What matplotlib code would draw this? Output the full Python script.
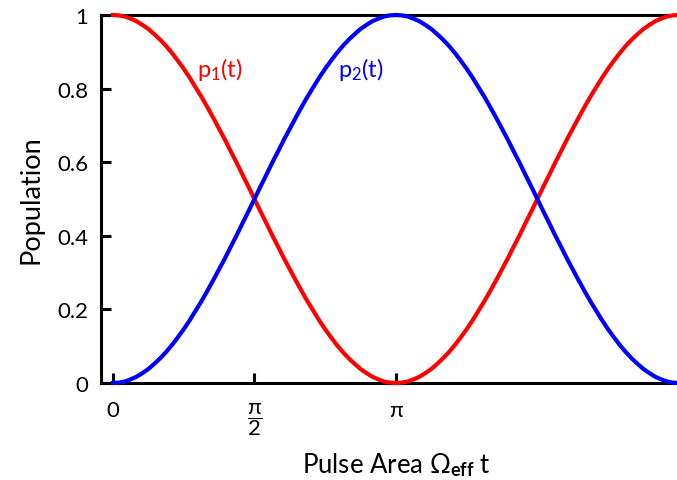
import numpy as np
import matplotlib
matplotlib.use("Agg")
import matplotlib.pyplot as plt

plt.rcParams['font.family'] = ['Lato', 'DejaVu Sans']
plt.rcParams['mathtext.fontset'] = 'custom'
plt.rcParams['mathtext.rm'] = 'Lato'
plt.rcParams['mathtext.it'] = 'Lato:italic'
plt.rcParams['mathtext.bf'] = 'Lato:bold'

# pulse area sampled in steps of pi/48, from 0 to 2*pi
pulse_area = np.linspace(0, 2 * np.pi, 97)

# ground-state population p1(t)
p1 = [1.000, 0.999, 0.996, 0.990, 0.983, 0.973, 0.962, 0.948, 0.933, 0.916,
      0.897, 0.876, 0.854, 0.830, 0.804, 0.778, 0.750, 0.721, 0.691, 0.661,
      0.629, 0.598, 0.565, 0.533, 0.500, 0.467, 0.435, 0.402, 0.371, 0.339,
      0.309, 0.279, 0.250, 0.222, 0.196, 0.170, 0.146, 0.124, 0.103, 0.084,
      0.067, 0.052, 0.038, 0.027, 0.017, 0.010, 0.004, 0.001, 0.000,
      0.001, 0.004, 0.010, 0.017, 0.027, 0.038, 0.052, 0.067, 0.084, 0.103,
      0.124, 0.146, 0.170, 0.196, 0.222, 0.250, 0.279, 0.309, 0.339, 0.371,
      0.402, 0.435, 0.467, 0.500, 0.533, 0.565, 0.598, 0.629, 0.661, 0.691,
      0.721, 0.750, 0.778, 0.804, 0.830, 0.854, 0.876, 0.897, 0.916, 0.933,
      0.948, 0.962, 0.973, 0.983, 0.990, 0.996, 0.999, 1.000]

# excited-state population p2(t)
p2 = [0.000, 0.001, 0.004, 0.010, 0.017, 0.027, 0.038, 0.052, 0.067, 0.084,
      0.103, 0.124, 0.146, 0.170, 0.196, 0.222, 0.250, 0.279, 0.309, 0.339,
      0.371, 0.402, 0.435, 0.467, 0.500, 0.533, 0.565, 0.598, 0.629, 0.661,
      0.691, 0.721, 0.750, 0.778, 0.804, 0.830, 0.854, 0.876, 0.897, 0.916,
      0.933, 0.948, 0.962, 0.973, 0.983, 0.990, 0.996, 0.999, 1.000,
      0.999, 0.996, 0.990, 0.983, 0.973, 0.962, 0.948, 0.933, 0.916, 0.897,
      0.876, 0.854, 0.830, 0.804, 0.778, 0.750, 0.721, 0.691, 0.661, 0.629,
      0.598, 0.565, 0.533, 0.500, 0.467, 0.435, 0.402, 0.371, 0.339, 0.309,
      0.279, 0.250, 0.222, 0.196, 0.170, 0.146, 0.124, 0.103, 0.084, 0.067,
      0.052, 0.038, 0.027, 0.017, 0.010, 0.004, 0.001, 0.000]

x_ticks = [0, np.pi / 2, np.pi]
x_tick_labels = ['0', r'$\dfrac{\mathrm{π}}{2}$', 'π']
y_ticks = [0, 0.2, 0.4, 0.6, 0.8, 1]
y_tick_labels = ['0', '0.2', '0.4', '0.6', '0.8', '1']

fig = plt.figure(figsize=(6.77, 4.81), dpi=100)
ax = fig.add_axes([101 / 677, 1 - 384 / 481, 1 - 101 / 677, (384 - 16) / 481])

ax.plot(pulse_area, p1, color='#ff0000', lw=3.0, clip_on=False, zorder=5)
ax.plot(pulse_area, p2, color='#0000ff', lw=3.0, clip_on=False, zorder=5)

ax.set_xlim(-0.133, 2 * np.pi - 0.02)
ax.set_ylim(0, 1)

for side in ['left', 'bottom', 'top']:
    ax.spines[side].set_linewidth(2.2)
ax.spines['right'].set_visible(False)

ax.set_xticks(x_ticks)
ax.set_xticklabels(x_tick_labels)
ax.set_yticks(y_ticks)
ax.set_yticklabels(y_tick_labels)
ax.tick_params(direction='in', length=7, width=2.2, labelsize=16)
ax.tick_params(axis='x', pad=12)
ax.tick_params(axis='y', pad=9)

ax.set_ylabel('Population', fontsize=19.5)
ax.yaxis.set_label_coords(-(101 - 44) / (677 - 101), 0.5)
ax.set_xlabel(r'Pulse Area Ω$_{\mathbf{eff}}$ t', fontsize=18.5, va='center')
ax.xaxis.set_label_coords((396 - 101) / (677 - 101), -(465 - 384) / 368)

ax.text(0.93, 0.855, r'p$_1$(t)', color='#ff0000', fontsize=17, ha='left', va='center')
ax.text(2.50, 0.855, r'p$_2$(t)', color='#0000ff', fontsize=17, ha='left', va='center')

fig.savefig('out.png', dpi=100)
